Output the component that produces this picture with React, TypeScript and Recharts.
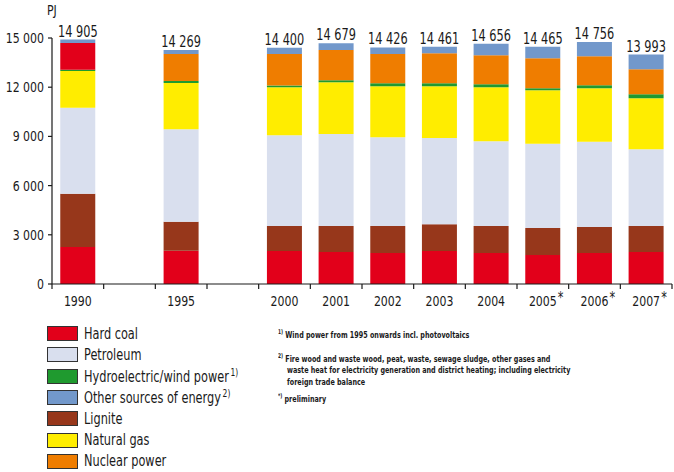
import React from 'react';
import { BarChart, Bar, XAxis, YAxis, LabelList, Cell } from 'recharts';

// Primary energy consumption, PJ
const years = ['1990', '', '1995', '', '2000', '2001', '2002', '2003', '2004', '2005', '2006', '2007'];
const preliminary = [false, false, false, false, false, false, false, false, false, true, true, true];

const hardCoal = [2250, null, 2030, null, 2010, 1950, 1890, 2010, 1890, 1770, 1890, 1950];
const lignite = [3250, null, 1770, null, 1520, 1580, 1640, 1640, 1640, 1640, 1580, 1580];
const petroleum = [5240, null, 5640, null, 5540, 5620, 5420, 5260, 5180, 5140, 5200, 4690];
const naturalGas = [2250, null, 2820, null, 2920, 3150, 3110, 3150, 3290, 3270, 3270, 3110];
const hydroWind = [80, null, 120, null, 120, 120, 180, 180, 180, 120, 180, 240];
const nuclear = [1620, null, 1640, null, 1910, 1850, 1790, 1830, 1770, 1830, 1770, 1520];
const totals = [14905, null, 14269, null, 14400, 14679, 14426, 14461, 14656, 14465, 14756, 13993];

const yTicks = [0, 3000, 6000, 9000, 12000, 15000];

const COLORS = {
  hardCoal: '#e2001a',
  petroleum: '#d9dfee',
  hydroWind: '#1f9a2f',
  other: '#7298cb',
  lignite: '#97371b',
  naturalGas: '#ffed00',
  nuclear: '#ef7d00',
};

const FONT = '"DejaVu Sans Condensed", "DejaVu Sans", sans-serif';
const INK = '#1a1a1a';
// horizontal squeeze to get a narrow, DIN-like look out of the condensed font
const SX = 0.84;

const data = years.map((year, i) => {
  const total = totals[i];
  const parts = [hardCoal[i], lignite[i], petroleum[i], naturalGas[i], hydroWind[i], nuclear[i]];
  const known = parts.reduce((s: number, v) => s + (v ?? 0), 0);
  return {
    year,
    hardCoal: hardCoal[i],
    lignite: lignite[i],
    petroleum: petroleum[i],
    naturalGas: naturalGas[i],
    hydroWind: hydroWind[i],
    nuclear: nuclear[i],
    // other sources fill the stack up to the published total
    other: total == null ? null : total - known,
    total,
  };
});

const fmt = (v: number) => String(v).replace(/\B(?=(\d{3})+(?!\d))/g, ' ');

const legendItems: { label: string; color: string; note?: string }[] = [
  { label: 'Hard coal', color: COLORS.hardCoal },
  { label: 'Petroleum', color: COLORS.petroleum },
  { label: 'Hydroelectric/wind power', color: COLORS.hydroWind, note: '1)' },
  { label: 'Other sources of energy', color: COLORS.other, note: '2)' },
  { label: 'Lignite', color: COLORS.lignite },
  { label: 'Natural gas', color: COLORS.naturalGas },
  { label: 'Nuclear power', color: COLORS.nuclear },
];

const CHART_W = 674;
const CHART_H = 310;
const Y_AXIS_W = 52;
const RIGHT = 2;
const BAND = (CHART_W - Y_AXIS_W - RIGHT) / years.length;

const CondText = ({ x, y, anchor = 'middle', size, children }: any) => (
  <text
    transform={`translate(${x} ${y}) scale(${SX} 1)`}
    textAnchor={anchor}
    fontFamily={FONT}
    fontSize={size}
    fill={INK}
  >
    {children}
  </text>
);

const XTick = (props: any) => {
  const { x, y, payload, index } = props;
  const axisY = y - 8;
  const label = payload.value as string;
  const star = preliminary[index];
  return (
    <g>
      <line x1={x - BAND / 2} x2={x - BAND / 2} y1={axisY} y2={axisY + 5} stroke={INK} strokeWidth={1.2} />
      {index === years.length - 1 && (
        <line x1={x + BAND / 2} x2={x + BAND / 2} y1={axisY} y2={axisY + 5} stroke={INK} strokeWidth={1.2} />
      )}
      {label && (
        <CondText x={x} y={axisY + 22} size={14.5}>
          {label}
        </CondText>
      )}
      {star && (
        <CondText x={x + 15} y={axisY + 19} anchor="start" size={15}>
          *
        </CondText>
      )}
    </g>
  );
};

const YTick = (props: any) => {
  const { x, y, payload } = props;
  return (
    <CondText x={x} y={y + 5} anchor="end" size={14.5}>
      {fmt(payload.value)}
    </CondText>
  );
};

const TotalLabel = (props: any) => {
  const { x, y, width, value } = props;
  if (value == null) return null;
  return (
    <CondText x={x + width / 2} y={y - 3} size={15}>
      {fmt(value)}
    </CondText>
  );
};

const squeeze: React.CSSProperties = {
  display: 'inline-block',
  transform: `scaleX(${SX})`,
  transformOrigin: 'left center',
  whiteSpace: 'nowrap',
};

export default function App() {
  return (
    <div style={{ position: 'absolute', left: 0, top: 0, width: 674, height: 472, background: '#fff', fontFamily: FONT, color: INK }}>
      <div style={{ position: 'absolute', left: 47, top: 2, fontSize: 14.5 }}>
        <span style={squeeze}>PJ</span>
      </div>
      <BarChart
        width={CHART_W}
        height={CHART_H}
        data={data}
        margin={{ top: 38, right: RIGHT, left: 0, bottom: 0 }}
        barCategoryGap="16%"
      >
        <XAxis
          dataKey="year"
          height={26}
          tickLine={{ stroke: 'none' }}
          tickSize={6}
          tickMargin={2}
          axisLine={{ stroke: INK, strokeWidth: 1.2 }}
          interval={0}
          tick={<XTick />}
        />
        <YAxis
          width={Y_AXIS_W}
          domain={[0, 15000]}
          ticks={yTicks}
          interval={0}
          tickSize={4}
          tickMargin={4}
          axisLine={{ stroke: INK, strokeWidth: 1.2 }}
          tickLine={{ stroke: INK, strokeWidth: 1.2 }}
          tick={<YTick />}
        />
        <Bar dataKey="hardCoal" stackId="a" fill={COLORS.hardCoal} isAnimationActive={false} />
        <Bar dataKey="lignite" stackId="a" fill={COLORS.lignite} isAnimationActive={false} />
        <Bar dataKey="petroleum" stackId="a" fill={COLORS.petroleum} isAnimationActive={false} />
        <Bar dataKey="naturalGas" stackId="a" fill={COLORS.naturalGas} isAnimationActive={false} />
        <Bar dataKey="hydroWind" stackId="a" fill={COLORS.hydroWind} isAnimationActive={false} />
        <Bar dataKey="nuclear" stackId="a" fill={COLORS.nuclear} isAnimationActive={false}>
          {data.map((d, i) => (
            <Cell key={i} fill={d.year === '1990' ? COLORS.hardCoal : COLORS.nuclear} />
          ))}
        </Bar>
        <Bar dataKey="other" stackId="a" fill={COLORS.other} isAnimationActive={false}>
          <LabelList dataKey="total" content={<TotalLabel />} />
        </Bar>
      </BarChart>

      <div style={{ position: 'absolute', left: 47, top: 323 }}>
        {legendItems.map((item) => (
          <div key={item.label} style={{ display: 'flex', alignItems: 'center', height: 21.3 }}>
            <div
              style={{
                width: 29,
                height: 13,
                background: item.color,
                border: '1px solid #333',
                marginRight: 6,
                flex: 'none',
              }}
            />
            <span style={{ ...squeeze, fontSize: 15 }}>
              {item.label}
              {item.note && <sup style={{ fontSize: 10, marginLeft: 2 }}>{item.note}</sup>}
            </span>
          </div>
        ))}
      </div>

      <div
        style={{
          position: 'absolute',
          left: 278,
          top: 327,
          fontSize: 9.5,
          fontWeight: 'bold',
          lineHeight: '11.5px',
          whiteSpace: 'nowrap',
          transform: 'scaleX(0.75)',
          transformOrigin: 'left top',
        }}
      >
        <div>
          <sup style={{ fontSize: 6.5 }}>1)</sup> Wind power from 1995 onwards incl. photovoltaics
        </div>
        <div style={{ marginTop: 10 }}>
          <sup style={{ fontSize: 6.5 }}>2)</sup> Fire wood and waste wood, peat, waste, sewage sludge, other gases and
        </div>
        <div style={{ paddingLeft: 12 }}>waste heat for electricity generation and district heating; including electricity</div>
        <div style={{ paddingLeft: 12 }}>foreign trade balance</div>
        <div style={{ marginTop: 4 }}>
          <sup style={{ fontSize: 6.5 }}>*)</sup> preliminary
        </div>
      </div>
    </div>
  );
}
